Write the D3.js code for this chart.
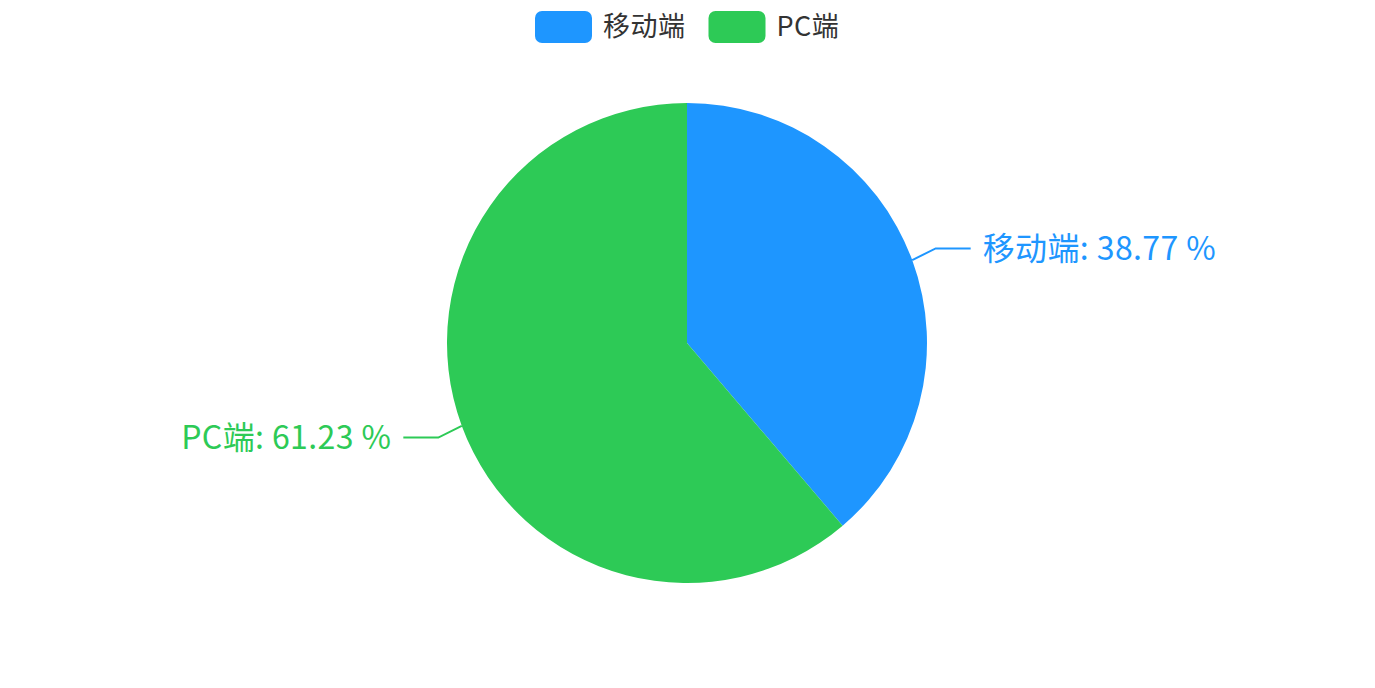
<!DOCTYPE html>
<html>
<head>
<meta charset="utf-8">
<script src="https://cdn.jsdelivr.net/npm/d3@7"></script>
<style>
  body { margin: 0; background: #fff; }
  svg { display: block; font-family: "Noto Sans CJK SC", "Noto Sans", sans-serif; }
</style>
</head>
<body>
<div id="chart"></div>
<script>
const categories = ['移动端', 'PC端']
const values = [38.77, 61.23]
const colors = ['#1e96ff', '#2dca56']

const WIDTH = 1375
const HEIGHT = 688
const cx = 687
const cy = 343
const radius = 240

const svg = d3.select('#chart').append('svg')
  .attr('width', WIDTH)
  .attr('height', HEIGHT)

const data = categories.map((name, i) => ({ name, value: values[i], color: colors[i] }))

const pie = d3.pie().sort(null).value(d => d.value)
const arc = d3.arc().innerRadius(0).outerRadius(radius)
const arcs = pie(data)

const g = svg.append('g').attr('transform', `translate(${cx}, ${cy})`)

// slices
g.selectAll('path.slice')
  .data(arcs)
  .join('path')
  .attr('class', 'slice')
  .attr('d', arc)
  .attr('fill', d => d.data.color)

// label lines + labels
const len1 = 25
const len2 = 35
arcs.forEach(a => {
  const mid = (a.startAngle + a.endAngle) / 2
  const sx = Math.sin(mid), sy = -Math.cos(mid)
  const p0 = [sx * radius, sy * radius]
  // nudge the bend a bit up/down, like the original layout does
  const p1 = [sx * (radius + len1), sy * (radius + len1) + (sy < 0 ? -3 : 3)]
  const dir = sx >= 0 ? 1 : -1
  const p2 = [p1[0] + dir * len2, p1[1]]

  g.append('polyline')
    .attr('points', [p0, p1, p2].map(p => p.join(',')).join(' '))
    .attr('fill', 'none')
    .attr('stroke', a.data.color)
    .attr('stroke-width', 2)

  g.append('text')
    .attr('x', p2[0] + dir * 12)
    .attr('y', p2[1])
    .attr('dy', '0.35em')
    .attr('text-anchor', dir > 0 ? 'start' : 'end')
    .style('fill', a.data.color)
    .style('font-size', '32px')
    .style('letter-spacing', '0.4px')
    .text(`${a.data.name}: ${d3.format('.2f')(a.data.value)} %`)
})

// legend
const legend = svg.append('g').attr('transform', 'translate(535, 11)')
let xOff = 0
data.forEach(d => {
  const item = legend.append('g').attr('transform', `translate(${xOff}, 0)`)
  item.append('rect')
    .attr('width', 57)
    .attr('height', 32)
    .attr('rx', 7)
    .attr('fill', d.color)
  const t = item.append('text')
    .attr('x', 68)
    .attr('y', 16)
    .attr('dy', '0.35em')
    .style('fill', '#333')
    .style('font-size', '27px')
    .style('letter-spacing', '0.5px')
    .text(d.name)
  xOff += 68 + t.node().getComputedTextLength() + 23
})
</script>
</body>
</html>
